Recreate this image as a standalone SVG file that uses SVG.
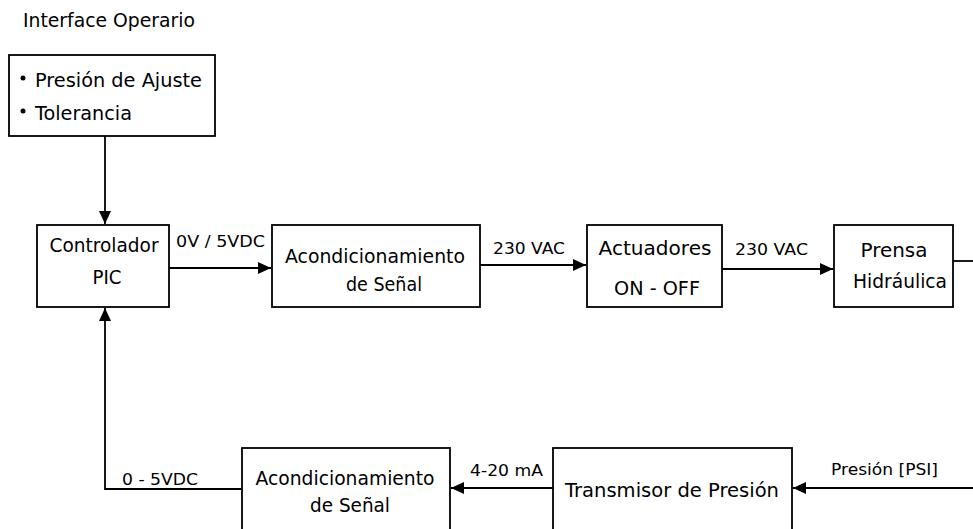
<svg xmlns="http://www.w3.org/2000/svg" width="973" height="529" viewBox="0 0 973 529">
<style>
.box{fill:#fff;stroke:#000;stroke-width:1.8}
.t{font-family:"DejaVu Sans","Liberation Sans",sans-serif;font-size:19px;fill:#000}
.c{text-anchor:middle}
.l{font-family:"DejaVu Sans","Liberation Sans",sans-serif;font-size:16px;fill:#000}
.w{fill:none;stroke:#000;stroke-width:1.8}
</style>
<defs>
<marker id="ah" viewBox="0 0 13 12" refX="13" refY="6" markerWidth="13" markerHeight="12" markerUnits="userSpaceOnUse" orient="auto">
<path d="M0,0 L13,6 L0,12 Z" fill="#000"/>
</marker>
</defs>
<text class="t" x="23" y="27" textLength="172" lengthAdjust="spacingAndGlyphs">Interface Operario</text>
<g id="interface">
<rect class="box" x="9" y="55" width="206" height="81"/>
<circle cx="23" cy="78" r="2.5"/>
<circle cx="23" cy="111" r="2.5"/>
<text class="t" x="35" y="87" textLength="167" lengthAdjust="spacingAndGlyphs">Presión de Ajuste</text>
<text class="t" x="35" y="120" textLength="97" lengthAdjust="spacingAndGlyphs">Tolerancia</text>
</g>
<g id="controlador">
<rect class="box" x="37" y="225" width="132" height="82"/>
<text class="t c" x="104" y="252" textLength="109" lengthAdjust="spacingAndGlyphs">Controlador</text>
<text class="t c" x="107" y="284" textLength="29" lengthAdjust="spacingAndGlyphs">PIC</text>
</g>
<g id="acond1">
<rect class="box" x="272" y="225" width="208" height="82"/>
<text class="t c" x="375" y="263" textLength="180" lengthAdjust="spacingAndGlyphs">Acondicionamiento</text>
<text class="t c" x="384" y="291" textLength="76" lengthAdjust="spacingAndGlyphs">de Señal</text>
</g>
<g id="actuadores">
<rect class="box" x="587" y="225" width="135" height="82"/>
<text class="t c" x="655" y="255" textLength="113" lengthAdjust="spacingAndGlyphs">Actuadores</text>
<text class="t c" x="657" y="295" textLength="86" lengthAdjust="spacingAndGlyphs">ON - OFF</text>
</g>
<g id="prensa">
<rect class="box" x="834" y="225" width="119" height="82"/>
<text class="t c" x="894" y="257" textLength="67" lengthAdjust="spacingAndGlyphs">Prensa</text>
<text class="t c" x="900" y="288" textLength="94" lengthAdjust="spacingAndGlyphs">Hidráulica</text>
</g>
<g id="acond2">
<rect class="box" x="242" y="448" width="208" height="90"/>
<text class="t c" x="345" y="485" textLength="179" lengthAdjust="spacingAndGlyphs">Acondicionamiento</text>
<text class="t c" x="350" y="512" textLength="80" lengthAdjust="spacingAndGlyphs">de Señal</text>
</g>
<g id="transmisor">
<rect class="box" x="553" y="448" width="239" height="90"/>
<text class="t c" x="672" y="497" textLength="214" lengthAdjust="spacingAndGlyphs">Transmisor de Presión</text>
</g>
<g id="connectors">
<line class="w" x1="105" y1="136" x2="105" y2="224" marker-end="url(#ah)"/>
<line class="w" x1="169" y1="268" x2="271" y2="268" marker-end="url(#ah)"/>
<line class="w" x1="480" y1="265" x2="586" y2="265" marker-end="url(#ah)"/>
<line class="w" x1="722" y1="269" x2="833" y2="269" marker-end="url(#ah)"/>
<line class="w" x1="953" y1="261" x2="973" y2="261"/>
<line class="w" x1="973" y1="488" x2="793" y2="488" marker-end="url(#ah)"/>
<line class="w" x1="553" y1="488" x2="451" y2="488" marker-end="url(#ah)"/>
<polyline class="w" points="242,489 105,489 105,308" marker-end="url(#ah)"/>
<text class="l" x="176" y="247" textLength="89" lengthAdjust="spacingAndGlyphs">0V / 5VDC</text>
<text class="l" x="493" y="254" textLength="72" lengthAdjust="spacingAndGlyphs">230 VAC</text>
<text class="l" x="735" y="255" textLength="73" lengthAdjust="spacingAndGlyphs">230 VAC</text>
<text class="l" x="122" y="485" textLength="76" lengthAdjust="spacingAndGlyphs">0 - 5VDC</text>
<text class="l" x="470" y="476" textLength="73" lengthAdjust="spacingAndGlyphs">4-20 mA</text>
<text class="l" x="831" y="475" textLength="107" lengthAdjust="spacingAndGlyphs">Presión [PSI]</text>
</g>
</svg>
